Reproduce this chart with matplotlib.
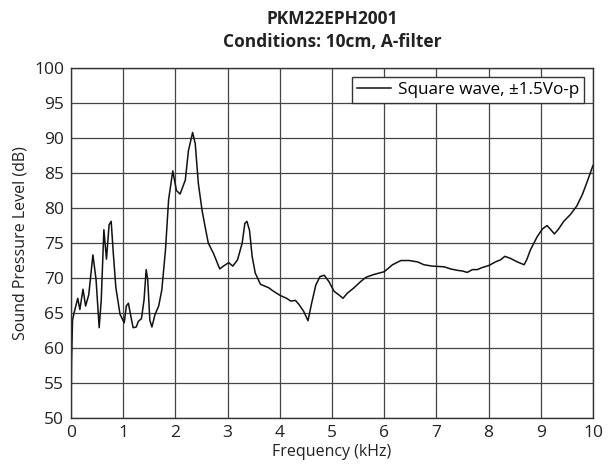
import matplotlib
matplotlib.use('Agg')
import matplotlib.pyplot as plt
import numpy as np

plt.rcParams['font.family'] = ['Open Sans', 'DejaVu Sans']

# frequency (kHz) and SPL (dB)
freq = [0.0, 0.01, 0.03, 0.065, 0.13, 0.17, 0.23, 0.28, 0.34, 0.42, 0.48, 0.54,
        0.58, 0.63, 0.68, 0.73, 0.77, 0.81, 0.86, 0.94, 1.02, 1.06, 1.10, 1.14,
        1.19, 1.25, 1.29, 1.35, 1.40, 1.44, 1.47, 1.51, 1.55, 1.61, 1.68, 1.74,
        1.81, 1.87, 1.95, 2.02, 2.09, 2.19, 2.25, 2.33, 2.38, 2.44, 2.51, 2.57,
        2.63, 2.73, 2.85, 2.92, 3.02, 3.10, 3.19, 3.28, 3.33, 3.37, 3.42, 3.47,
        3.53, 3.63, 3.79, 3.88, 4.01, 4.13, 4.21, 4.30, 4.37, 4.46, 4.54, 4.61,
        4.69, 4.77, 4.85, 4.94, 5.04, 5.13, 5.21, 5.29, 5.42, 5.55, 5.65, 5.80,
        6.00, 6.16, 6.32, 6.48, 6.64, 6.76, 6.92, 7.15, 7.27, 7.40, 7.50, 7.59,
        7.69, 7.78, 7.88, 8.01, 8.13, 8.23, 8.31, 8.42, 8.55, 8.68, 8.73, 8.80,
        8.93, 9.03, 9.12, 9.18, 9.26, 9.34, 9.44, 9.57, 9.69, 9.80, 9.90, 10.0]
spl = [50.0, 58.0, 64.0, 65.2, 67.1, 65.5, 68.4, 66.0, 67.6, 73.3, 69.8, 62.9,
       66.9, 76.9, 72.7, 77.6, 78.1, 73.6, 68.6, 64.8, 63.6, 66.0, 66.4, 64.8,
       62.9, 63.0, 63.8, 64.2, 66.9, 71.2, 69.8, 64.0, 63.0, 64.8, 66.0, 68.3,
       74.0, 81.2, 85.3, 82.5, 82.0, 84.0, 88.2, 90.8, 89.2, 83.5, 79.7, 77.3,
       75.0, 73.5, 71.3, 71.7, 72.2, 71.7, 72.6, 75.0, 77.8, 78.1, 76.8, 73.1,
       70.7, 69.1, 68.6, 68.1, 67.5, 67.1, 66.7, 66.8, 66.2, 65.2, 63.9, 66.4,
       69.0, 70.2, 70.4, 69.5, 68.1, 67.6, 67.1, 67.8, 68.6, 69.5, 70.1, 70.5,
       70.9, 71.9, 72.5, 72.5, 72.3, 71.9, 71.7, 71.6, 71.3, 71.1, 71.0, 70.8,
       71.2, 71.2, 71.5, 71.8, 72.3, 72.6, 73.1, 72.8, 72.3, 71.9, 72.6, 74.0,
       75.9, 77.0, 77.5, 77.0, 76.3, 77.0, 78.1, 79.1, 80.3, 82.0, 84.0, 86.1]

fig = plt.figure(figsize=(6.13, 4.66), dpi=100)
ax = fig.add_axes([0.1158, 0.103, 0.8516, 0.751])

ax.plot(freq, spl, color='#111111', linewidth=1.1, label='Square wave, \u00b11.5Vo-p')

ax.set_xlim(0, 10)
ax.set_ylim(50, 100)
ax.set_xticks(np.arange(0, 11, 1))
ax.set_yticks(np.arange(50, 101, 5))
ax.grid(True, color='#444444', linewidth=0.9)
ax.tick_params(axis='x', length=0, labelsize=12.5, pad=5, colors='#222222')
ax.tick_params(axis='y', length=0, labelsize=12.5, pad=5, colors='#222222')
for s in ax.spines.values():
    s.set_color('#333333')
    s.set_linewidth(1.0)

ax.set_xlabel('Frequency (kHz)', fontsize=11.5, color='#222222', labelpad=2)
ax.set_ylabel('Sound Pressure Level (dB)', fontsize=11.5, color='#222222', labelpad=4)
ax.set_title('PKM22EPH2001\nConditions: 10cm, A-filter', fontsize=12.5,
             fontweight='bold', color='#222222', pad=15, linespacing=1.4)

leg = ax.legend(loc='upper right', fontsize=12.3, frameon=True, fancybox=False,
                handlelength=2.0, handletextpad=0.4, borderaxespad=0.5, borderpad=0.3)
leg.get_frame().set_edgecolor('#333333')
leg.get_frame().set_linewidth(1.0)
leg.get_frame().set_alpha(1)

plt.savefig('out.png', dpi=100)
